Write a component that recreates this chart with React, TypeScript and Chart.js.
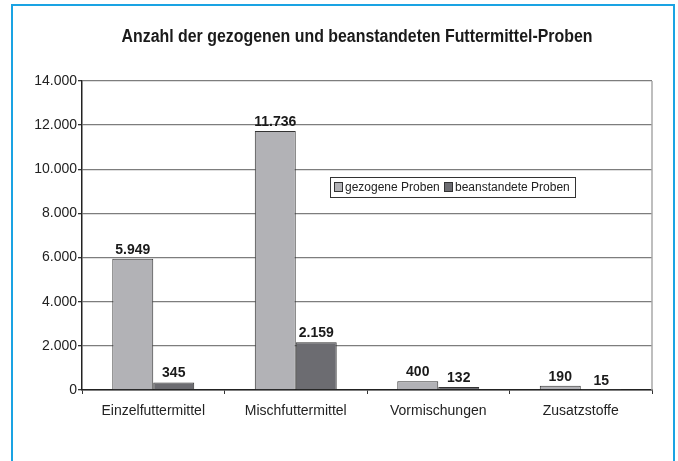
import React, { useEffect, useRef } from "react";
import { Chart, registerables } from "chart.js";

Chart.register(...registerables);

const categories = ["Einzelfuttermittel", "Mischfuttermittel", "Vormischungen", "Zusatzstoffe"];
const gezogene = [5949, 11736, 400, 190];
const beanstandete = [345, 2159, 132, 15];
const seriesNames = ["gezogene Proben", "beanstandete Proben"];
const titleText = "Anzahl der gezogenen und beanstandeten Futtermittel-Proben";

const FONT = "'Liberation Sans', Arial, sans-serif";
const LIGHT = "#b2b2b6";
const DARK = "#6c6c71";

const fmt = (v: number) => v.toLocaleString("de-DE");

export default function App() {
  const ref = useRef<HTMLCanvasElement | null>(null);

  useEffect(() => {
    document.body.style.margin = "0";
    const canvas = ref.current!;
    const overlay = {
      id: "overlay",
      afterDraw(chart: any) {
        const ctx = chart.ctx;
        const area = chart.chartArea;
        ctx.save();
        // title
        ctx.font = `bold 18px ${FONT}`;
        ctx.fillStyle = "#1a1a1a";
        ctx.textAlign = "center";
        ctx.textBaseline = "alphabetic";
        ctx.fillText(titleText, 357, 42, 471);
        // right border of plot
        ctx.strokeStyle = "#a8a8a8";
        ctx.lineWidth = 1.5;
        ctx.beginPath();
        ctx.moveTo(area.right, area.top);
        ctx.lineTo(area.right, area.bottom);
        ctx.stroke();
        // data labels
        ctx.font = `bold 14px ${FONT}`;
        ctx.fillStyle = "#1a1a1a";
        ctx.textAlign = "center";
        ctx.textBaseline = "alphabetic";
        chart.data.datasets.forEach((ds: any, di: number) => {
          const meta = chart.getDatasetMeta(di);
          meta.data.forEach((bar: any, i: number) => {
            ctx.fillText(fmt(ds.data[i]), bar.x, bar.y - 5);
          });
        });
        // legend box
        const lx = 330, ly = 177, lw = 245, lh = 20;
        ctx.fillStyle = "#ffffff";
        ctx.fillRect(lx, ly, lw, lh);
        ctx.strokeStyle = "#333333";
        ctx.lineWidth = 1;
        ctx.strokeRect(lx + 0.5, ly + 0.5, lw, lh);
        ctx.font = `12px ${FONT}`;
        ctx.textAlign = "left";
        ctx.textBaseline = "middle";
        const items = [
          { x: 334, color: LIGHT, text: seriesNames[0] },
          { x: 444, color: DARK, text: seriesNames[1] },
        ];
        items.forEach((it) => {
          ctx.fillStyle = it.color;
          ctx.fillRect(it.x, ly + 5, 9, 10);
          ctx.strokeStyle = "#333333";
          ctx.strokeRect(it.x + 0.5, ly + 5.5, 8, 9);
          ctx.fillStyle = "#222222";
          ctx.fillText(it.text, it.x + 11, ly + 10.5);
        });
        ctx.restore();
      },
    };

    const chart = new Chart(canvas, {
      type: "bar",
      data: {
        labels: categories,
        datasets: [
          {
            label: seriesNames[0],
            data: gezogene,
            backgroundColor: LIGHT,
            borderColor: "#333333",
            borderWidth: 1,
          },
          {
            label: seriesNames[1],
            data: beanstandete,
            backgroundColor: DARK,
            borderColor: "#333333",
            borderWidth: 1,
          },
        ],
      },
      options: {
        responsive: false,
        animation: false,
        layout: { padding: { top: 81, right: 26, bottom: 0, left: 0 } },
        datasets: {
          bar: { categoryPercentage: 0.575, barPercentage: 1 },
        },
        plugins: {
          legend: { display: false },
          title: { display: false },
          tooltip: { enabled: false },
        },
        scales: {
          x: {
            grid: {
              drawOnChartArea: false,
              drawTicks: true,
              tickLength: 4,
              color: "#333333",
              offset: true,
            },
            border: { color: "#222222", width: 1.5 },
            ticks: {
              color: "#222222",
              font: { family: FONT, size: 14 },
              padding: 9,
              maxRotation: 0,
            },
            afterFit(scale: any) {
              scale.height = 71;
            },
          },
          y: {
            min: 0,
            max: 14000,
            grid: {
              color: "#7d7d7d",
              lineWidth: 1.3,
              tickLength: 4,
              tickColor: "#333333",
            },
            border: { color: "#222222", width: 1.5 },
            ticks: {
              stepSize: 2000,
              color: "#222222",
              font: { family: FONT, size: 14 },
              padding: 1,
              callback: (v: any) => fmt(Number(v)),
            },
            afterFit(scale: any) {
              scale.width = 82;
            },
          },
        },
      },
      plugins: [overlay],
    });
    return () => chart.destroy();
  }, []);

  return (
    <div style={{ position: "relative", width: 678, height: 461, background: "#ffffff", overflow: "hidden" }}>
      <div
        style={{
          position: "absolute",
          left: 11,
          top: 4,
          width: 660,
          height: 480,
          borderTop: "2px solid #1aa3e3",
          borderLeft: "2px solid #1aa3e3",
          borderRight: "2px solid #1aa3e3",
        }}
      />
      <canvas ref={ref} width={678} height={461} style={{ position: "absolute", left: 0, top: 0 }} />
    </div>
  );
}
